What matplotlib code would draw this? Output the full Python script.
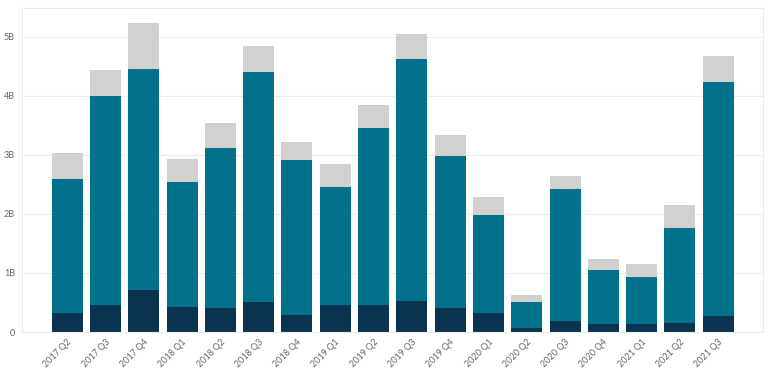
import numpy as np
import matplotlib.pyplot as plt

plt.rcParams['font.family'] = ['Lato', 'DejaVu Sans']

# Datos (miles de millones)
quarters = ['2017 Q2', '2017 Q3', '2017 Q4',
            '2018 Q1', '2018 Q2', '2018 Q3', '2018 Q4',
            '2019 Q1', '2019 Q2', '2019 Q3', '2019 Q4',
            '2020 Q1', '2020 Q2', '2020 Q3', '2020 Q4',
            '2021 Q1', '2021 Q2', '2021 Q3']
dark = [0.32, 0.46, 0.71, 0.42, 0.40, 0.51, 0.29, 0.45, 0.45,
        0.53, 0.41, 0.32, 0.07, 0.19, 0.14, 0.13, 0.16, 0.27]
teal_top = [2.59, 4.00, 4.45, 2.54, 3.11, 4.41, 2.92, 2.45, 3.45,
            4.63, 2.98, 1.99, 0.51, 2.42, 1.05, 0.94, 1.76, 4.23]
total = [3.03, 4.44, 5.23, 2.93, 3.54, 4.85, 3.22, 2.84, 3.85,
         5.05, 3.34, 2.29, 0.63, 2.64, 1.24, 1.15, 2.16, 4.68]

yticks = [0, 1, 2, 3, 4, 5]
ytick_labels = ['0', '1B', '2B', '3B', '4B', '5B']

dark = np.array(dark)
teal = np.array(teal_top) - dark
gray = np.array(total) - np.array(teal_top)

fig = plt.figure(figsize=(7.68, 3.72), dpi=100)
ax = fig.add_axes([22 / 768, 40 / 372, 741 / 768, 324 / 372])

x = np.arange(len(quarters))
w = 0.81
ax.bar(x, dark, w, color='#0a3350', zorder=2)
ax.bar(x, teal, w, bottom=dark, color='#02718c', zorder=2)
ax.bar(x, gray, w, bottom=teal_top, color='#d2d1cf', zorder=2)

ax.set_xlim(-1.18, 18.17)
ax.set_ylim(0, 5.49)
ax.set_yticks(yticks)
ax.set_yticklabels(ytick_labels)
ax.set_xticks(x)
ax.set_xticklabels(quarters, rotation=45, ha='right', rotation_mode='anchor')
ax.tick_params(axis='both', length=0, labelsize=6.5, colors='#666666')
ax.tick_params(axis='y', pad=5)
ax.tick_params(axis='x', pad=4)
ax.grid(axis='y', color='#ededed', linewidth=0.8, zorder=0)
for s in ax.spines.values():
    s.set_color('#ececec')
    s.set_linewidth(0.8)

fig.savefig('out.png', dpi=100)
